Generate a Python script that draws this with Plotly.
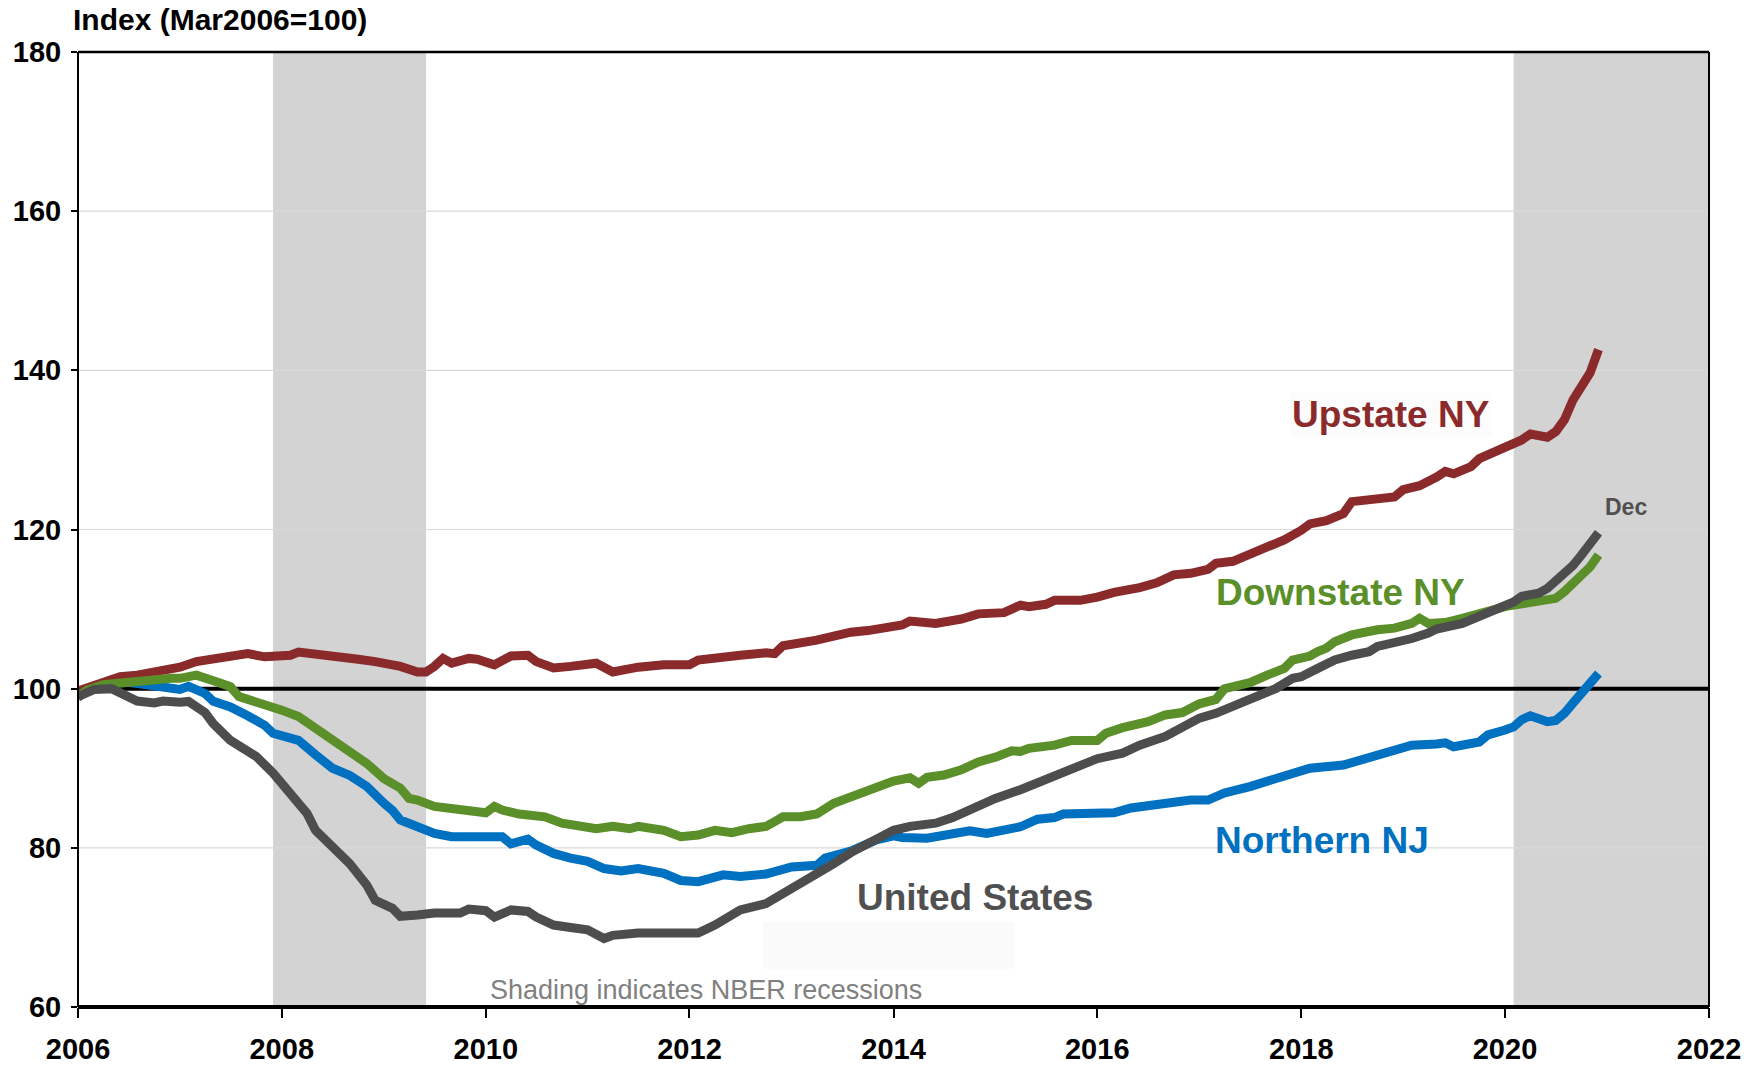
import plotly.graph_objects as go

# ---------------- data (month offsets from Jan 2006, index values) ----------------
upstate_m = [0, 3, 5, 7, 9, 11, 12, 14, 16, 17, 19, 20, 22, 25, 26, 28, 30, 31, 33, 35, 38, 40, 41, 42, 43, 44, 46, 47,
             49, 51, 53, 54, 56, 58, 61, 63, 66, 69, 72, 73, 75, 78, 81, 82, 83, 85, 87, 89, 91, 93, 95, 97, 98, 101,
             104, 106, 109, 111, 112, 114, 115, 118, 120, 122, 125, 127, 129, 131, 133, 134, 136, 138, 139, 141, 142,
             144, 145, 147, 149, 150, 152, 153, 155, 156, 158, 160, 161, 162, 164, 165, 167, 168, 169, 170, 171, 172,
             173, 174, 175, 176, 177, 178, 179]
upstate_v = [99.7, 100.75, 101.5, 101.7, 102.1, 102.6, 102.7, 103.4, 103.8, 103.9, 104.2, 104.4, 104.0, 104.2, 104.6,
             104.4, 104.1, 104.0, 103.7, 103.4, 102.8, 102.1, 102.1, 102.8, 103.8, 103.2, 103.8, 103.7,
             103.0, 104.1, 104.2, 103.4, 102.6, 102.8, 103.2, 102.1, 102.7, 103.0, 103.0, 103.6, 103.9, 104.2, 104.5,
             104.4, 105.4, 105.7, 106.1, 106.6, 107.1, 107.3, 107.6, 108.0, 108.5, 108.2,
             108.75, 109.4, 109.55, 110.5, 110.3, 110.6, 111.1, 111.1, 111.5, 112.1, 112.7, 113.3, 114.3, 114.5, 115.0,
             115.75, 116.0, 116.8, 117.2, 118.3, 118.7,
             119.9, 120.7, 121.1, 122.0, 123.5, 123.7, 123.7, 124.1, 125.0, 125.5, 126.6, 127.3, 127.0, 127.9, 128.9,
             129.8, 130.1, 130.8, 131.25, 132.0, 131.9, 131.6, 132.3, 133.8, 136.3, 138.2, 139.7, 142.6]

downstate_m = [0, 1, 3, 5, 7, 9, 11, 12, 14, 16, 18, 19, 21, 23, 24, 26, 28, 30, 32, 34, 36, 38, 39, 40, 42, 45, 47,
               48, 49, 50, 52, 55, 57, 59, 61, 63, 65, 66, 69, 71, 73, 75, 77, 79, 81, 82, 83, 85, 87, 89, 91, 93, 95,
               96, 98, 99, 100, 102, 104, 106, 108, 110, 111, 112, 115, 117, 120, 121, 123, 126, 128, 130, 132, 134,
               135, 138, 140, 142, 143, 145, 146, 147, 148, 150, 153, 155, 157, 158, 159, 161, 163, 165, 167, 168,
               169, 170, 171, 172, 173, 174, 175, 176, 177, 178, 179]
downstate_v = [99.0, 99.8, 100.5, 100.75, 100.75, 101.0, 101.3, 101.3, 101.7, 101.0, 100.25, 99.0, 98.4, 97.7, 97.3,
               96.5, 95.0, 93.3, 92.1, 90.6, 88.7, 87.5, 86.2, 86.0, 85.2, 84.75, 84.7,
               84.4, 85.2, 84.75, 84.25, 83.9, 83.1, 82.7, 82.4, 82.7, 82.4, 82.7, 82.2, 81.4, 81.6, 82.2, 81.9, 82.4,
               82.7, 83.3, 83.9, 83.9, 84.25, 85.6, 86.4, 86.9, 87.7,
               88.4, 88.8, 88.1, 88.85, 89.15, 89.8, 90.8, 91.4, 92.2, 92.1, 92.5, 92.9, 93.5, 93.5, 94.4, 95.1, 95.85,
               96.7, 97.0, 98.1, 98.65,
               100.0, 100.75, 101.7, 102.55, 103.6, 104.1, 104.65, 105.1, 105.9, 106.75, 107.4, 107.6, 108.2, 108.85,
               108.2, 108.3, 108.85, 109.5, 109.9, 110.3,
               110.5, 110.7, 110.9, 111.05, 111.1, 111.35, 112.2, 113.2, 114.3, 115.3, 116.8]

us_m = [0, 2, 4, 5, 7, 9, 10, 12, 13, 15, 16, 18, 21, 23, 25, 27, 28, 30, 32, 34, 35, 37, 38, 40, 42, 45, 46, 48, 49,
        51, 53, 54, 56, 58, 60, 62, 63, 66, 69, 71, 73, 75, 78, 81, 83, 84, 87, 89, 91, 93, 95, 96, 98, 101, 103,
        105, 108, 111, 113, 115, 117, 120, 123, 125, 128, 130, 132, 134, 136, 138, 141, 143, 144, 146, 148, 150,
        152, 153, 155, 157, 159, 160, 163, 165, 167, 168, 169, 170, 171, 172, 173, 174, 175, 176, 177, 178, 179]
us_v = [99.0, 99.9, 100.0, 99.4, 98.45, 98.2, 98.45, 98.3, 98.4, 97.0, 95.6, 93.5, 91.5, 89.4, 86.8, 84.3, 82.2, 80.1,
        78.0, 75.3, 73.4, 72.4, 71.4, 71.55, 71.8, 71.8, 72.3, 72.1, 71.3,
        72.2, 72.0, 71.3, 70.3, 70.0, 69.7, 68.6, 69.0, 69.3, 69.2, 69.2, 69.3, 70.3, 72.2, 73.0, 74.2, 74.9, 76.6,
        78.0, 79.4, 80.6, 81.6, 82.2, 82.7, 83.1, 83.8,
        84.8, 86.2, 87.3, 88.1, 88.9, 90.0, 91.2, 91.9, 92.9, 94.0, 95.1, 96.3, 96.9, 97.8, 98.9, 100.0, 101.3,
        101.5, 102.55, 103.6, 104.2,
        104.65, 105.3, 105.7, 106.3, 107.0, 107.5, 108.2, 109.0, 109.9, 110.5, 110.9, 111.6, 111.8, 112.0, 112.6,
        113.45, 114.3, 115.5, 116.8, 118.3, 119.6]

nj_m = [0, 1, 3, 4, 6, 8, 10, 12, 13, 15, 16, 18, 20, 22, 23, 26, 28, 30, 32, 34, 36, 37, 38, 40, 42, 44, 46, 48,
        50, 51, 53, 54, 56, 58, 60, 62, 64, 66, 69, 71, 73, 76, 78, 81, 82, 84, 87, 88, 91, 93, 94, 96, 97, 100,
        102, 103, 105, 107, 109, 111, 113, 115, 116, 120, 122, 124, 126, 128, 131, 133, 135, 138, 140, 142, 143,
        145, 149, 151, 153, 155, 157, 160, 161, 162, 164, 165, 166, 167, 168, 169, 170, 171, 172, 173, 174, 175,
        176, 177, 178, 179]
nj_v = [98.9, 99.8, 100.6, 101.1, 100.8, 100.5, 100.0, 99.9, 100.3, 99.4, 98.4, 97.7, 96.6, 95.4, 94.4, 93.5, 91.7,
        90.0, 89.1, 87.7, 85.6, 84.7, 83.5, 82.7, 81.8, 81.4, 81.4, 81.2,
        81.4, 80.5, 81.1, 80.35, 79.3, 78.7, 78.3, 77.4, 77.1, 77.4, 76.8, 75.9, 75.75, 76.6, 76.4, 76.7, 77.1, 77.6,
        77.8, 78.7, 79.6, 80.5, 81.0, 81.5, 81.3, 81.2,
        81.5, 81.9, 82.15, 81.8, 82.2, 82.65, 83.6, 83.8, 84.25, 84.3, 84.4, 85.0, 85.25, 85.7, 86.0, 86.0, 86.9,
        87.7, 88.4, 88.9, 89.5,
        90.0, 90.4, 91.0, 91.8, 92.2, 92.9, 93.05, 93.2, 92.7, 93.3, 93.3, 94.2, 94.4, 94.8, 95.2, 96.1, 96.6, 96.3,
        95.85, 96.0, 96.9, 98.2, 99.5, 100.75, 101.9]

recessions = [("2007-12-01", "2009-06-01"), ("2020-02-01", "2022-01-01")]
y_ticks = [60, 80, 100, 120, 140, 160, 180]
grid_values = [80, 120, 140, 160]
base_value = 100


def to_dates(months):
    return [f"{2006 + m // 12}-{m % 12 + 1:02d}-01" for m in months]


FONT = "Liberation Sans, Arial, sans-serif"
C_UP = "#8B2A2B"
C_DOWN = "#5B8F29"
C_NJ = "#0070C0"
C_US = "#4D4D4D"

fig = go.Figure()

series = [
    ("Northern NJ", nj_m, nj_v, C_NJ),
    ("Upstate NY", upstate_m, upstate_v, C_UP),
    ("Downstate NY", downstate_m, downstate_v, C_DOWN),
    ("United States", us_m, us_v, C_US),
]
for name, m, v, c in series:
    fig.add_trace(go.Scatter(x=to_dates(m), y=v, mode="lines", name=name,
                             line=dict(color=c, width=9), hoverinfo="x+y+name"))

shapes = []
for a, b in recessions:
    shapes.append(dict(type="rect", xref="x", yref="paper", x0=a, x1=b, y0=0, y1=1,
                       fillcolor="#D3D3D3", line=dict(width=0), layer="below"))
# faint empty box present in the original
shapes.append(dict(type="rect", xref="x", yref="y", x0="2012-09-20", x1="2015-03-10", y0=64.8, y1=70.7,
                   fillcolor="#FAFAFA", line=dict(width=0), layer="below"))
# horizontal gridlines
for g in grid_values:
    shapes.append(dict(type="line", xref="paper", yref="y", x0=0, x1=1, y0=g, y1=g,
                       line=dict(color="#D9D9D9", width=1.2), layer="below"))
# 100 reference line
shapes.append(dict(type="line", xref="paper", yref="y", x0=0, x1=1, y0=base_value, y1=base_value,
                   line=dict(color="black", width=4), layer="below"))
# plot border
shapes.append(dict(type="line", xref="paper", yref="paper", x0=0, x1=1, y0=1, y1=1,
                   line=dict(color="black", width=2.5), layer="above"))
shapes.append(dict(type="line", xref="paper", yref="paper", x0=0, x1=0, y0=0, y1=1,
                   line=dict(color="black", width=2), layer="above"))
shapes.append(dict(type="line", xref="paper", yref="paper", x0=1, x1=1, y0=0, y1=1,
                   line=dict(color="black", width=2), layer="above"))
shapes.append(dict(type="line", xref="paper", yref="paper", x0=0, x1=1, y0=0, y1=0,
                   line=dict(color="black", width=4), layer="above"))

annotations = [
    dict(text="<b>Index (Mar2006=100)</b>", xref="paper", yref="paper", x=-0.004, y=1.034,
         xanchor="left", yanchor="middle", showarrow=False, font=dict(family=FONT, size=30, color="black")),
    dict(text="<b>Upstate NY</b>", x="2018-11-20", y=134.5, xref="x", yref="y", showarrow=False,
         font=dict(family=FONT, size=37, color=C_UP), bgcolor="#FCFCFC"),
    dict(text="<b>Downstate NY</b>", x="2018-05-20", y=112.1, xref="x", yref="y", showarrow=False,
         font=dict(family=FONT, size=37, color=C_DOWN)),
    dict(text="<b>Northern NJ</b>", x="2018-03-15", y=80.9, xref="x", yref="y", showarrow=False,
         font=dict(family=FONT, size=37, color=C_NJ)),
    dict(text="<b>United States</b>", x="2014-10-20", y=73.8, xref="x", yref="y", showarrow=False,
         font=dict(family=FONT, size=37, color="#505050")),
    dict(text="<b>Dec</b>", x="2021-03-10", y=122.8, xref="x", yref="y", showarrow=False,
         font=dict(family=FONT, size=23, color="#505050")),
    dict(text="Shading indicates NBER recessions", x="2012-03-01", y=62.1, xref="x", yref="y", showarrow=False,
         font=dict(family=FONT, size=27, color="#808080")),
]

fig.update_layout(
    width=1762, height=1066,
    margin=dict(l=78, r=53, t=52, b=59, pad=0, autoexpand=False),
    paper_bgcolor="white", plot_bgcolor="white",
    showlegend=False,
    shapes=shapes, annotations=annotations,
    font=dict(family=FONT, color="black"),
)
fig.update_xaxes(type="date", range=["2006-01-01", "2022-01-01"], dtick="M24", tick0="2006-01-01",
                 tickformat="%Y", showgrid=False, zeroline=False, showline=False, automargin=False,
                 ticks="outside", ticklen=10, tickwidth=1.5, tickcolor="black",
                 ticklabelstandoff=6,
                 tickfont=dict(family=FONT, size=29, color="black", weight="bold"))
fig.update_yaxes(range=[60, 180], tickvals=y_ticks, showgrid=False, automargin=False,
                 zeroline=False, showline=False, ticks="outside", ticklen=6, tickwidth=1.5, tickcolor="black",
                 ticklabelstandoff=4,
                 tickfont=dict(family=FONT, size=29, color="black", weight="bold"))

fig.write_html("out.html", config={"displayModeBar": False},
               post_script="document.body.style.margin='0';document.body.style.overflow='hidden';")
